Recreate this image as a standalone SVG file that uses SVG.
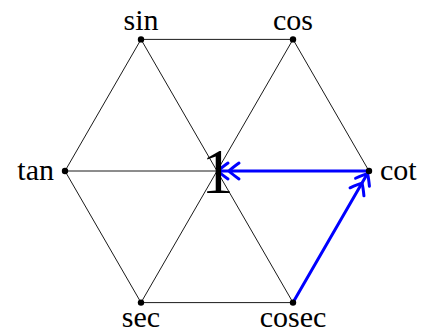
<svg xmlns="http://www.w3.org/2000/svg" width="423" height="333" viewBox="0 0 423 333">
<style>
.edge{stroke:#000;stroke-width:0.9;fill:none}
.arrow{stroke:#0000ff;stroke-width:3;fill:none;stroke-linecap:round}
.dot{fill:#000}
.lbl{font-family:"Liberation Serif","DejaVu Serif",serif;font-size:30px;fill:#000}
.big{font-family:"Liberation Serif","DejaVu Serif",serif;font-size:64px;fill:#000}
</style>
<defs>
<marker id="dbl" markerUnits="userSpaceOnUse" markerWidth="30" markerHeight="24" viewBox="-24 -12 30 24" refX="0" refY="0" orient="auto">
<path d="M-10,-8 Q-3,-3 0,0 Q-3,3 -10,8 M-21,-8 Q-14,-3 -11,0 Q-14,3 -21,8" stroke="#0000ff" stroke-width="3" fill="none" stroke-linecap="round" stroke-linejoin="round"/>
</marker>
</defs>
<rect width="423" height="333" fill="#fff"/>
<g id="connectors">
<line class="edge" x1="141" y1="39.4" x2="293" y2="39.4"/>
<line class="edge" x1="293" y1="39.4" x2="369" y2="171"/>
<line class="edge" x1="369" y1="171" x2="293" y2="302.6"/>
<line class="edge" x1="293" y1="302.6" x2="141" y2="302.6"/>
<line class="edge" x1="141" y1="302.6" x2="65" y2="171"/>
<line class="edge" x1="65" y1="171" x2="141" y2="39.4"/>
<line class="edge" x1="141" y1="39.4" x2="293" y2="302.6"/>
<line class="edge" x1="293" y1="39.4" x2="141" y2="302.6"/>
<line class="edge" x1="65" y1="171" x2="369" y2="171"/>
<line class="arrow" x1="369" y1="171" x2="218" y2="171" marker-end="url(#dbl)"/>
<line class="arrow" x1="293" y1="302.6" x2="367.5" y2="173.6" marker-end="url(#dbl)"/>
</g>
<g id="n-center"><text class="big" x="217.5" y="193" text-anchor="middle">1</text></g>
<g id="n-sin"><circle class="dot" cx="141" cy="39.4" r="3.2"/><text class="lbl" x="141" y="30" text-anchor="middle">sin</text></g>
<g id="n-cos"><circle class="dot" cx="293" cy="39.4" r="3.2"/><text class="lbl" x="293" y="30" text-anchor="middle">cos</text></g>
<g id="n-cot"><circle class="dot" cx="369" cy="171" r="3.2"/><text class="lbl" x="380" y="180">cot</text></g>
<g id="n-cosec"><circle class="dot" cx="293" cy="302.6" r="3.2"/><text class="lbl" x="293" y="327" text-anchor="middle">cosec</text></g>
<g id="n-sec"><circle class="dot" cx="141" cy="302.6" r="3.2"/><text class="lbl" x="141" y="327" text-anchor="middle">sec</text></g>
<g id="n-tan"><circle class="dot" cx="65" cy="171" r="3.2"/><text class="lbl" x="54" y="180" text-anchor="end">tan</text></g>
</svg>
